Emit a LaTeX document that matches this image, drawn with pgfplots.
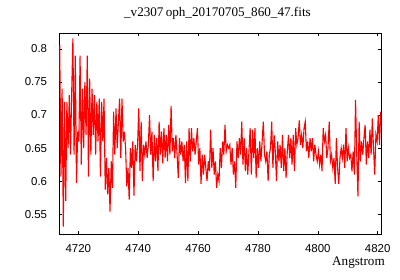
\documentclass[border=0pt]{standalone}
\usepackage{fontspec}
\setmainfont{Liberation Sans}
\newfontfamily\seriffont{Liberation Serif}
\usepackage{pgfplots}
\pgfplotsset{compat=1.18}
\begin{document}
\begin{tikzpicture}
\path[use as bounding box] (-59.3bp,-46bp) rectangle (340.7bp,234bp);
\begin{axis}[
  at={(0,0)}, anchor=south west,
  scale only axis, width=321.7bp, height=200.7bp,
  xmin=4713.66, xmax=4821.1, ymin=0.520, ymax=0.8237,
  xtick={4720,4740,...,4820},
  ytick={0.55,0.6,0.65,0.7,0.75,0.8},
  scaled x ticks=false, scaled y ticks=false,
  /pgf/number format/assume math mode=true,
  /pgf/number format/1000 sep={},
  yticklabel style={/pgf/number format/fixed, /pgf/number format/precision=2},
  tick label style={font=\fontsize{11.5}{13}\selectfont},
  xticklabel style={inner sep=0pt, anchor=north, yshift=-10.3bp},
  yticklabel style={inner sep=0pt, anchor=east, xshift=-12bp},
  major tick length=3bp,
  tick style={black, line width=0.6bp},
  axis line style={black, line width=0.8bp},
  xlabel={\seriffont Angstrom},
  xlabel style={at={(rel axis cs:1,0)}, anchor=base east, inner sep=0pt, xshift=4bp, yshift=-31.7bp, font=\fontsize{13.2}{15}\selectfont},
  title={\seriffont \_v2307\,oph\_20170705\_860\_47.fits},
  title style={at={(rel axis cs:0.5,1)}, anchor=base, inner sep=0pt, xshift=-2.7bp, yshift=10.6bp, font=\fontsize{13.2}{15}\selectfont},
]
\addplot[red, line width=1.1bp, mark=none] coordinates {
(4713.8,0.806)(4714.2,0.607)(4714.6,0.74)(4715.0,0.531)(4715.4,0.72)
(4715.8,0.57)(4716.2,0.72)(4716.6,0.65)(4717.0,0.73)(4717.4,0.64)
(4717.8,0.735)(4718.2,0.816)(4718.6,0.64)(4719.0,0.79)(4719.4,0.597)
(4719.8,0.675)(4720.2,0.66)(4720.6,0.79)(4721.0,0.625)(4721.4,0.74)
(4721.8,0.65)(4722.2,0.75)(4722.6,0.67)(4723.0,0.79)(4723.4,0.607)
(4723.8,0.755)(4724.2,0.64)(4724.6,0.74)(4725.0,0.67)(4725.4,0.73)
(4725.8,0.64)(4726.2,0.72)(4726.6,0.66)(4727.0,0.725)(4727.4,0.607)
(4727.8,0.72)(4728.2,0.66)(4728.6,0.725)(4729.0,0.587)(4729.4,0.635)
(4729.8,0.58)(4730.2,0.62)(4730.6,0.554)(4731.0,0.63)(4731.4,0.59)
(4731.8,0.705)(4732.2,0.64)(4732.6,0.71)(4733.0,0.65)(4733.4,0.69)
(4733.8,0.725)(4734.2,0.635)(4734.6,0.725)(4735.0,0.66)(4735.4,0.675)
(4735.8,0.65)(4736.2,0.592)(4736.6,0.62)(4737.0,0.572)(4737.4,0.65)
(4737.8,0.62)(4738.2,0.66)(4738.6,0.578)(4739.0,0.655)(4739.4,0.63)
(4739.8,0.655)(4740.2,0.71)(4740.6,0.615)(4741.0,0.69)(4741.4,0.6)
(4741.8,0.655)(4742.2,0.64)(4742.6,0.66)(4743.0,0.635)(4743.4,0.655)
(4743.8,0.70)(4744.2,0.64)(4744.6,0.675)(4745.0,0.6)(4745.4,0.67)
(4745.8,0.63)(4746.2,0.665)(4746.6,0.615)(4747.0,0.69)(4747.4,0.64)
(4747.8,0.675)(4748.2,0.627)(4748.6,0.68)(4749.0,0.635)(4749.4,0.67)
(4749.8,0.63)(4750.2,0.685)(4750.6,0.64)(4751.0,0.714)(4751.4,0.645)
(4751.8,0.665)(4752.2,0.635)(4752.6,0.67)(4753.0,0.64)(4753.4,0.605)
(4753.8,0.665)(4754.2,0.64)(4754.6,0.66)(4755.0,0.63)(4755.4,0.655)
(4755.8,0.597)(4756.2,0.66)(4756.6,0.6)(4757.0,0.68)(4757.4,0.63)
(4757.8,0.68)(4758.2,0.645)(4758.6,0.665)(4759.0,0.64)(4759.4,0.66)
(4759.8,0.68)(4760.2,0.625)(4760.6,0.65)(4761.0,0.596)(4761.4,0.64)
(4761.8,0.61)(4762.2,0.64)(4762.6,0.62)(4763.0,0.6)(4763.4,0.63)
(4763.8,0.615)(4764.2,0.678)(4764.6,0.62)(4765.0,0.65)(4765.4,0.61)
(4765.8,0.63)(4766.2,0.59)(4766.6,0.61)(4767.0,0.6)(4767.4,0.65)
(4767.8,0.62)(4768.2,0.66)(4768.6,0.64)(4769.0,0.685)(4769.4,0.645)
(4769.8,0.655)(4770.2,0.65)(4770.6,0.655)(4771.0,0.625)(4771.4,0.65)
(4771.8,0.61)(4772.2,0.63)(4772.6,0.59)(4773.0,0.66)(4773.4,0.635)
(4773.8,0.665)(4774.2,0.64)(4774.6,0.69)(4775.0,0.625)(4775.4,0.665)
(4775.8,0.615)(4776.2,0.65)(4776.6,0.61)(4777.0,0.645)(4777.4,0.68)
(4777.8,0.61)(4778.2,0.678)(4778.6,0.635)(4779.0,0.68)(4779.4,0.605)
(4779.8,0.65)(4780.2,0.62)(4780.6,0.66)(4781.0,0.63)(4781.4,0.66)
(4781.8,0.69)(4782.2,0.64)(4782.6,0.63)(4783.0,0.645)(4783.4,0.6)
(4783.8,0.64)(4784.2,0.65)(4784.6,0.69)(4785.0,0.62)(4785.4,0.67)
(4785.8,0.645)(4786.2,0.6)(4786.6,0.66)(4787.0,0.63)(4787.4,0.655)
(4787.8,0.62)(4788.2,0.67)(4788.6,0.615)(4789.0,0.65)(4789.4,0.605)
(4789.8,0.645)(4790.2,0.67)(4790.6,0.635)(4791.0,0.665)(4791.4,0.625)
(4791.8,0.67)(4792.2,0.615)(4792.6,0.68)(4793.0,0.655)(4793.4,0.665)
(4793.8,0.692)(4794.2,0.655)(4794.6,0.67)(4795.0,0.65)(4795.4,0.68)
(4795.8,0.69)(4796.2,0.645)(4796.6,0.66)(4797.0,0.635)(4797.4,0.665)
(4797.8,0.645)(4798.2,0.665)(4798.6,0.63)(4799.0,0.655)(4799.4,0.64)
(4799.8,0.63)(4800.2,0.645)(4800.6,0.625)(4801.0,0.64)(4801.4,0.615)
(4801.8,0.68)(4802.2,0.66)(4802.6,0.67)(4803.0,0.635)(4803.4,0.65)
(4803.8,0.69)(4804.2,0.63)(4804.6,0.64)(4805.0,0.62)(4805.4,0.635)
(4805.8,0.596)(4806.2,0.665)(4806.6,0.62)(4807.0,0.596)(4807.4,0.635)
(4807.8,0.65)(4808.2,0.635)(4808.6,0.655)(4809.0,0.62)(4809.4,0.68)
(4809.8,0.63)(4810.2,0.65)(4810.6,0.635)(4811.0,0.64)(4811.4,0.615)
(4811.8,0.645)(4812.2,0.61)(4812.6,0.723)(4813.0,0.64)(4813.4,0.577)
(4813.8,0.69)(4814.2,0.63)(4814.6,0.66)(4815.0,0.64)(4815.4,0.665)
(4815.8,0.685)(4816.2,0.625)(4816.6,0.66)(4817.0,0.635)(4817.4,0.678)
(4817.8,0.64)(4818.2,0.695)(4818.6,0.65)(4819.0,0.61)(4819.4,0.67)
(4819.8,0.66)(4820.2,0.70)(4820.6,0.655)(4821.0,0.705)
};
\end{axis}
\end{tikzpicture}
\end{document}
